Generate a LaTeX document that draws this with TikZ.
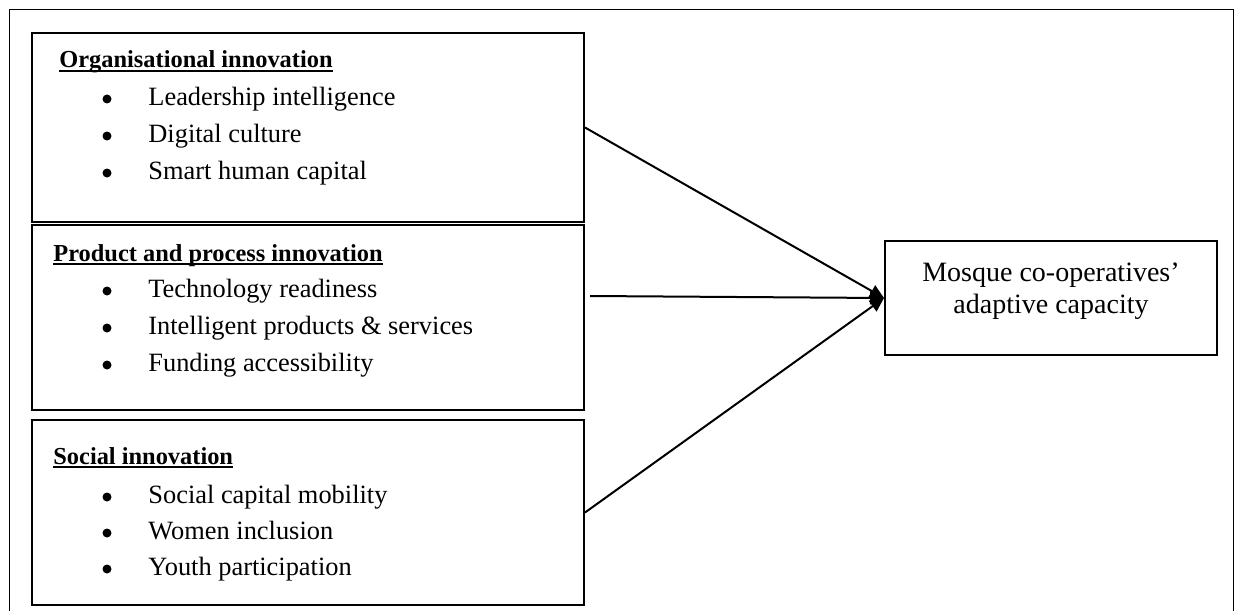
\documentclass[tikz,border=0pt]{standalone}
\usepackage{fontspec}
\setmainfont{Liberation Serif}
\usetikzlibrary{arrows.meta,positioning}

\begin{document}
\begin{tikzpicture}[x=0.5pt, y=-0.5pt,
		box_style/.style={draw=black, line width=1pt, inner sep=0pt},
		head_style/.style={anchor=base west, inner sep=0pt, font=\fontsize{12.2}{14}\selectfont\bfseries},
		item_style/.style={anchor=base west, inner sep=0pt, font=\fontsize{13.2}{15}\selectfont},
		dot_style/.style={circle, fill=black, inner sep=0pt, minimum size=4.5pt},
		line_style/.style={draw=black, line width=1pt},
		edge_style/.style={draw=black, line width=1pt, -{Triangle[length=7pt,width=6.5pt]}}]

		\useasboundingbox (0,0) rectangle (1241,610);
		\draw[line width=0.5pt] (9,612) -- (9,10) -- (1233,10) -- (1233,612);

		% boxes
		\node[box_style, minimum width=276pt, minimum height=94.5pt] (b1) at (308,127.5) {};
		\node[box_style, minimum width=276pt, minimum height=92.5pt] (b2) at (308,317.5) {};
		\node[box_style, minimum width=276pt, minimum height=92.5pt] (b3) at (308,512.5) {};
		\node[box_style, minimum width=166pt, minimum height=57pt] (mq) at (1051,298) {};

		% headings
		\node[head_style] (h1) at (59,68)  {Organisational innovation};
		\node[head_style] (h2) at (53,261) {Product and process innovation};
		\node[head_style] (h3) at (53,464) {Social innovation};
		\draw[line_style] ([yshift=-1.6pt]h1.base west) -- ([yshift=-1.6pt]h1.base east);
		\draw[line_style] ([yshift=-1.6pt]h2.base west) -- ([yshift=-1.6pt]h2.base east);
		\draw[line_style] ([yshift=-1.6pt]h3.base west) -- ([yshift=-1.6pt]h3.base east);

		% bullets
		\node[dot_style] (d1) at (107,99)  {};
		\node[dot_style] (d2) at (107,136) {};
		\node[dot_style] (d3) at (107,173) {};
		\node[dot_style] (d4) at (107,291) {};
		\node[dot_style] (d5) at (107,328) {};
		\node[dot_style] (d6) at (107,365) {};
		\node[dot_style] (d7) at (107,497) {};
		\node[dot_style] (d8) at (107,533) {};
		\node[dot_style] (d9) at (107,569) {};

		% items
		\node[item_style] (t1) at (148,105) {Leadership intelligence};
		\node[item_style] (t2) at (148,142) {Digital culture};
		\node[item_style] (t3) at (148,179) {Smart human capital};
		\node[item_style] (t4) at (148,297) {Technology readiness};
		\node[item_style] (t5) at (148,334) {Intelligent products \& services};
		\node[item_style] (t6) at (148,371) {Funding accessibility};
		\node[item_style] (t7) at (148,503) {Social capital mobility};
		\node[item_style] (t8) at (148,539) {Women inclusion};
		\node[item_style] (t9) at (148,575) {Youth participation};

		\node[align=center, inner sep=0pt, font=\fontsize{14}{16}\selectfont] (mqt) at (1051,291)
			{Mosque co-operatives’\\adaptive capacity};

		% arrows
		\coordinate (s2) at (590,296);
		\draw[edge_style] (b1.east) -- (mq.west);
		\draw[edge_style] (s2) -- (mq.west);
		\draw[edge_style] (b3.east) -- (mq.west);
\end{tikzpicture}
\end{document}
